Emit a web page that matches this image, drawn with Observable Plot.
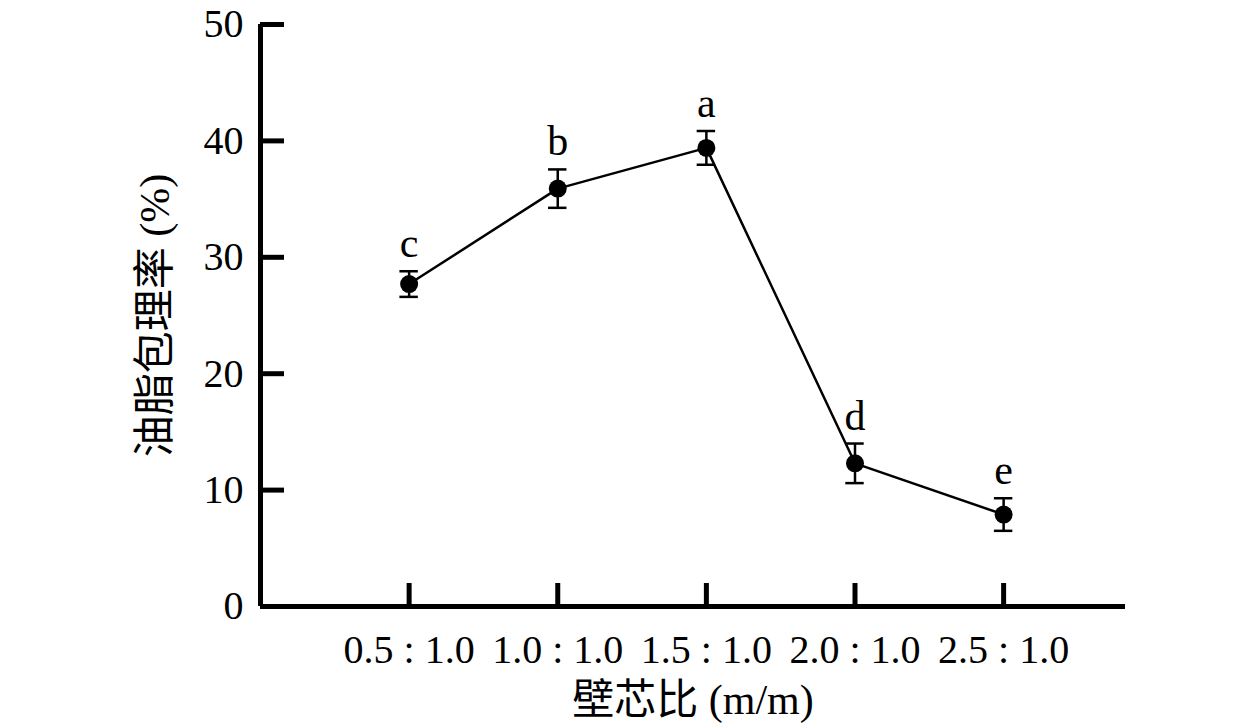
<!DOCTYPE html>
<html>
<head>
<meta charset="utf-8">
<script src="https://cdn.jsdelivr.net/npm/d3@7"></script>
<script src="https://cdn.jsdelivr.net/npm/@observablehq/plot@0.6"></script>
<style>
  html, body { margin: 0; padding: 0; background: #fff; }
</style>
</head>
<body>
<div id="chart"></div>
<script>
const ratios = [0.5, 1.0, 1.5, 2.0, 2.5];
const xTickLabels = ["0.5 : 1.0", "1.0 : 1.0", "1.5 : 1.0", "2.0 : 1.0", "2.5 : 1.0"];
const values = [27.7, 35.9, 39.4, 12.3, 7.9];
const errors = [1.1, 1.65, 1.45, 1.7, 1.4];
const letters = ["c", "b", "a", "d", "e"];
const yTicks = [0, 10, 20, 30, 40, 50];
const yLabel = "油脂包理率 (%)";
const xLabel = "壁芯比 (m/m)";

const data = ratios.map((r, i) => ({x: r, y: values[i], e: errors[i], l: letters[i]}));
const capHalf = 0.031;
const font = "'Liberation Serif', 'Noto Sans CJK SC', serif";

const chart = Plot.plot({
  width: 1260,
  height: 728,
  marginLeft: 260,
  marginRight: 135,
  marginTop: 24,
  marginBottom: 122,
  style: {fontFamily: font, background: "#fff", color: "#000"},
  x: {domain: [0, 2.91]},
  y: {domain: [0, 50]},
  marks: [
    Plot.axisY({ticks: yTicks, tickSize: -24, tickPadding: 41, strokeWidth: 5, fontSize: 40, label: null}),
    Plot.axisX({ticks: ratios, tickFormat: (d) => xTickLabels[ratios.indexOf(d)], tickSize: -23, tickPadding: 51, strokeWidth: 5, fontSize: 40, label: null}),
    Plot.ruleY([0], {strokeWidth: 5}),
    Plot.ruleX([0], {strokeWidth: 5}),
    Plot.line(data, {x: "x", y: "y", stroke: "#000", strokeWidth: 2.5}),
    Plot.ruleX(data, {x: "x", y1: (d) => d.y - d.e, y2: (d) => d.y + d.e, stroke: "#000", strokeWidth: 2.5}),
    Plot.ruleY(data, {y: (d) => d.y + d.e, x1: (d) => d.x - capHalf, x2: (d) => d.x + capHalf, stroke: "#000", strokeWidth: 2.5}),
    Plot.ruleY(data, {y: (d) => d.y - d.e, x1: (d) => d.x - capHalf, x2: (d) => d.x + capHalf, stroke: "#000", strokeWidth: 2.5}),
    Plot.dot(data, {x: "x", y: "y", r: 9, fill: "#000", stroke: null}),
    Plot.text(data, {x: "x", y: (d) => d.y + d.e, text: "l", lineAnchor: "bottom", dy: -14, fontSize: 42, fill: "#000"}),
    Plot.text([yLabel], {text: (d) => d, frameAnchor: "left", textAnchor: "middle", rotate: -90, dx: -105, fontSize: 42, fill: "#000"}),
    Plot.text([xLabel], {text: (d) => d, frameAnchor: "bottom", textAnchor: "middle", lineAnchor: "middle", dy: 94, fontSize: 42, fill: "#000"})
  ]
});
document.getElementById("chart").appendChild(chart);
</script>
</body>
</html>
